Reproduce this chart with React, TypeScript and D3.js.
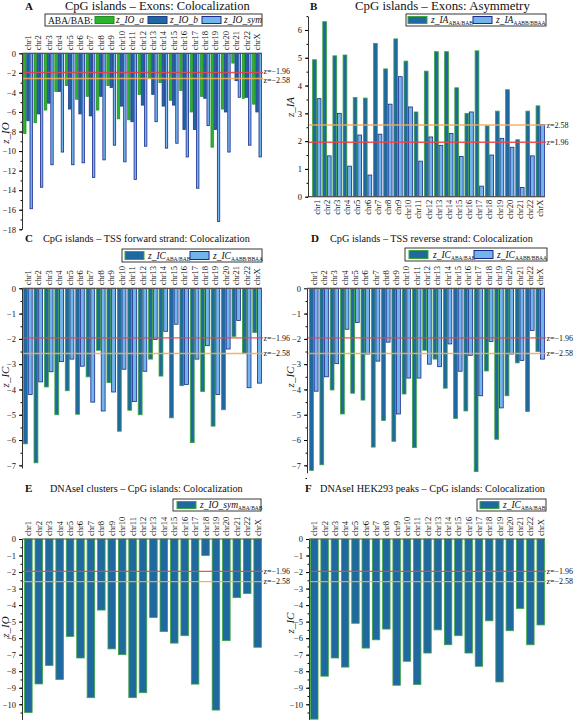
import React, { useEffect, useRef } from 'react';
import * as d3 from 'd3';

const chrs = ['chr1', 'chr2', 'chr3', 'chr4', 'chr5', 'chr6', 'chr7', 'chr8', 'chr9', 'chr10', 'chr11', 'chr12',
  'chr13', 'chr14', 'chr15', 'chr16', 'chr17', 'chr18', 'chr19', 'chr20', 'chr21', 'chr22', 'chrX'];

// A: CpG islands - Exons, colocalization
const ioA = [-8.2, -7.1, -5.8, -3.9, -3.3, -4.7, -4.4, -5.8, -3.3, -6.7, -6.8, -4.2, -2.5, -3.0, -4.8, -3.8, -6.0, -4.4, -9.6, -5.7, -1.0, -4.6, -5.2];
const ioB = [-6.9, -6.2, -5.1, -3.9, -5.7, -6.2, -6.4, -4.4, -3.5, -5.4, -7.0, -5.3, -4.2, -5.4, -5.3, -7.8, -7.8, -4.6, -7.8, -6.0, -2.8, -4.5, -6.0];
const ioSym = [-15.9, -13.7, -11.4, -10.1, -11.4, -11.2, -12.7, -10.9, -9.4, -11.1, -12.9, -9.5, -7.0, -9.7, -9.2, -10.6, -13.8, -7.4, -17.2, -10.1, -4.5, -9.4, -10.6];

// B: CpG islands - Exons, asymmetry
const iaAbaBab = [4.93, 6.3, 5.07, 5.1, 3.57, 3.55, 5.52, 4.6, 5.68, 4.88, 3.05, 4.52, 5.22, 5.22, 3.92, 3.0, 5.25, 2.55, 3.08, 3.85, 2.05, 3.08, 3.27];
const iaAabbBbaa = [3.53, 1.47, 3.0, 1.1, 2.22, 0.78, 2.25, 3.33, 4.32, 3.23, 1.28, 2.15, 1.85, 2.28, 1.45, 3.05, 0.38, 1.5, 2.1, 1.78, 0.33, 1.47, 2.6];

// C: TSS forward strand
const icFwdAbaBab = [-6.15, -6.9, -3.9, -5.0, -4.05, -4.98, -3.5, -2.45, -3.73, -5.65, -4.82, -5.0, -2.8, -3.47, -5.12, -3.85, -6.1, -4.08, -5.45, -4.8, -1.9, -2.57, -1.75];
const icFwdAabbBbaa = [-4.2, -3.7, -3.3, -2.9, -2.8, -3.08, -4.5, -4.85, -4.1, -3.2, -4.48, -3.28, -2.02, -1.7, -1.42, -3.8, -2.8, -2.27, -4.2, -2.4, -1.27, -3.93, -3.75];

// D: TSS reverse strand
const icRevAbaBab = [-7.2, -6.98, -4.02, -4.97, -4.15, -4.42, -6.28, -5.23, -6.05, -4.18, -6.3, -2.45, -2.8, -3.95, -5.15, -4.85, -7.25, -3.27, -5.97, -4.25, -2.95, -4.87, -2.5];
const icRevAabbBbaa = [-4.07, -3.5, -2.98, -1.62, -1.35, -2.6, -2.88, -2.13, -4.97, -3.55, -3.55, -3.0, -3.1, -2.2, -3.28, -2.65, -4.25, -2.1, -4.73, -2.6, -2.85, -1.67, -2.8];

// E: DNAseI clusters, F: DNAseI HEK293 peaks
const dnaseClusters = [-10.5, -8.77, -7.65, -8.5, -5.9, -7.2, -9.6, -4.3, -6.65, -7.0, -9.6, -9.3, -4.75, -5.6, -6.3, -5.85, -8.78, -1.0, -10.35, -6.15, -3.55, -3.3, -6.55];
const dnaseHek = [-10.9, -8.3, -7.2, -7.75, -5.1, -6.6, -6.1, -5.45, -8.85, -7.4, -8.8, -6.9, -5.5, -6.4, -5.85, -6.9, -7.7, -4.95, -8.65, -5.55, -4.2, -6.4, -5.2];

const ticksA = [0, -2, -4, -6, -8, -10, -12, -14, -16, -18];
const ticksB = [0, 1, 2, 3, 4, 5, 6];
const ticksCD = [0, -1, -2, -3, -4, -5, -6, -7];
const ticksEF = [0, -1, -2, -3, -4, -5, -6, -7, -8, -9, -10];

const FONT = '"Liberation Serif", "Times New Roman", serif';
const RED = '#e8454a';
const ORANGE = '#f3aa5c';

const GREEN = { fill: '#2cb42f', stroke: '#1f8f24' };
const DARK = { fill: '#2068a4', stroke: '#1a3c8c' };
const DARKG = { fill: '#2068a0', stroke: '#3ca53c' };
const LIGHT = { fill: '#72b5ec', stroke: '#1b2a8a' };

interface Series { values: number[]; fill: string; stroke: string; }
interface LegendItem { sx: number; tx: number; fill: string; stroke: string; main: string; sub?: string; }
interface Threshold { v: number; color: string; label: string; dy: number; }
interface Panel {
  id: string; title: string; letterX: number; titleSpan: [number, number]; titleY: number;
  x0: number; x1: number; barStart: number; barEnd: number; pad: number;
  yDomain: [number, number]; yRange: [number, number]; ticks: number[]; minorStep: number;
  series: Series[]; thresholds: Threshold[];
  below: boolean; axisLabel: string; axisX: number; axisY: number;
  clip: [number, number];
  legend: { box: [number, number, number, number]; prefix?: { x: number; text: string }; items: LegendItem[] };
}

const negLines = (d1: number, d2: number): Threshold[] => [
  { v: -1.96, color: RED, label: 'z=−1.96', dy: d1 },
  { v: -2.58, color: ORANGE, label: 'z=−2.58', dy: d2 },
];

const panels: Panel[] = [
  {
    id: 'A', title: 'CpG islands – Exons: Colocalization', letterX: 25, titleSpan: [65, 250], titleY: 10,
    x0: 22, x1: 262, barStart: 23, barEnd: 262, pad: 0.08,
    yDomain: [-18, 0], yRange: [229.3, 53.3], ticks: ticksA, minorStep: 1,
    series: [{ values: ioA, ...GREEN }, { values: ioB, ...DARK }, { values: ioSym, ...LIGHT }],
    thresholds: negLines(1.2, 4),
    below: false, axisLabel: 'z_IO', axisX: 9, axisY: 133, clip: [0, 290],
    legend: {
      box: [45, 14, 217, 12], prefix: { x: 48, text: 'ABA/BAB:' },
      items: [
        { sx: 95, tx: 116, ...GREEN, main: 'z_IO_a' },
        { sx: 148, tx: 170, ...DARK, main: 'z_IO_b' },
        { sx: 202, tx: 224, ...LIGHT, main: 'z_IO_sym' },
      ],
    },
  },
  {
    id: 'B', title: 'CpG islands – Exons: Asymmetry', letterX: 310, titleSpan: [355, 530], titleY: 10,
    x0: 308, x1: 545, barStart: 312, barEnd: 545, pad: 0.1,
    yDomain: [0, 6.5], yRange: [196.7, 16.1], ticks: ticksB, minorStep: 0.5,
    series: [{ values: iaAbaBab, ...DARKG }, { values: iaAabbBbaa, ...LIGHT }],
    thresholds: [
      { v: 2.58, color: ORANGE, label: 'z=2.58', dy: 2.8 },
      { v: 1.96, color: RED, label: 'z=1.96', dy: 2.8 },
    ],
    below: true, axisLabel: 'z_IA', axisX: 294, axisY: 107, clip: [284, 577],
    legend: {
      box: [406, 14, 140, 12],
      items: [
        { sx: 408, tx: 431, ...DARKG, main: 'z_IA', sub: 'ABA/BAB' },
        { sx: 473, tx: 496, ...LIGHT, main: 'z_IA', sub: 'AABB/BBAA' },
      ],
    },
  },
  {
    id: 'C', title: 'CpG islands – TSS forward strand: Colocalization', letterX: 25, titleSpan: [43, 250], titleY: 242,
    x0: 22, x1: 262, barStart: 23, barEnd: 262, pad: 0.1,
    yDomain: [-7.1, 0], yRange: [467.9, 288.3], ticks: ticksCD, minorStep: 0.5,
    series: [{ values: icFwdAbaBab, ...DARKG }, { values: icFwdAabbBbaa, ...LIGHT }],
    thresholds: negLines(2.8, 2.8),
    below: false, axisLabel: 'z_IC', axisX: 9, axisY: 377, clip: [0, 290],
    legend: {
      box: [122, 249, 140, 13],
      items: [
        { sx: 125, tx: 148, ...DARKG, main: 'z_IC', sub: 'ABA/BAB' },
        { sx: 190, tx: 213, ...LIGHT, main: 'z_IC', sub: 'AABB/BBAA' },
      ],
    },
  },
  {
    id: 'D', title: 'CpG islands – TSS reverse strand: Colocalization', letterX: 311, titleSpan: [330, 533], titleY: 242,
    x0: 307, x1: 545, barStart: 309, barEnd: 545, pad: 0.1,
    yDomain: [-7.3, 0], yRange: [472.9, 288.3], ticks: ticksCD, minorStep: 0.5,
    series: [{ values: icRevAbaBab, ...DARKG }, { values: icRevAabbBbaa, ...LIGHT }],
    thresholds: negLines(2.8, 2.8),
    below: false, axisLabel: 'z_IC', axisX: 294, axisY: 377, clip: [284, 577],
    legend: {
      box: [405, 248, 142, 13],
      items: [
        { sx: 409, tx: 433, ...DARKG, main: 'z_IC', sub: 'ABA/BAB' },
        { sx: 474, tx: 497, ...LIGHT, main: 'z_IC', sub: 'AABB/BBAA' },
      ],
    },
  },
  {
    id: 'E', title: 'DNAseI clusters – CpG islands: Colocalization', letterX: 25, titleSpan: [50, 243], titleY: 492,
    x0: 22, x1: 262, barStart: 24, barEnd: 262, pad: 0.2,
    yDomain: [-11, 0], yRange: [720.8, 539], ticks: ticksEF, minorStep: 0.5,
    series: [{ values: dnaseClusters, ...DARKG }],
    thresholds: negLines(2.8, 2.8),
    below: false, axisLabel: 'z_IO', axisX: 9, axisY: 627, clip: [0, 290],
    legend: {
      box: [173, 499, 88, 12],
      items: [{ sx: 177, tx: 200, ...DARKG, main: 'z_IO_sym', sub: 'ABA/BAB' }],
    },
  },
  {
    id: 'F', title: 'DNAseI HEK293 peaks – CpG islands: Colocalization', letterX: 305, titleSpan: [320, 545], titleY: 492,
    x0: 309, x1: 545, barStart: 310, barEnd: 545, pad: 0.2,
    yDomain: [-11, 0], yRange: [720.8, 539], ticks: ticksEF, minorStep: 0.5,
    series: [{ values: dnaseHek, ...DARKG }],
    thresholds: negLines(2.8, 2.8),
    below: false, axisLabel: 'z_IC', axisX: 294, axisY: 623, clip: [284, 577],
    legend: {
      box: [477, 499, 69, 12],
      items: [{ sx: 480, tx: 503, ...DARKG, main: 'z_IC', sub: 'ABA/BAB' }],
    },
  },
];

function drawPanel(svg: d3.Selection<SVGSVGElement, unknown, null, undefined>, p: Panel) {
  svg.select('defs').append('clipPath').attr('id', `clip${p.id}`)
    .append('rect').attr('x', p.clip[0]).attr('y', 0).attr('width', p.clip[1] - p.clip[0]).attr('height', 720);

  const g = svg.append('g').attr('clip-path', `url(#clip${p.id})`)
    .attr('font-family', FONT).attr('fill', '#111');

  const y = d3.scaleLinear().domain(p.yDomain).range(p.yRange);
  const x = d3.scaleBand<string>().domain(chrs).range([p.barStart, p.barEnd]).paddingInner(p.pad).paddingOuter(0.02);
  const sub = d3.scaleBand<number>().domain(d3.range(p.series.length)).range([0, x.bandwidth()]);

  // bars
  p.series.forEach((s, i) => {
    g.append('g').selectAll('rect').data(s.values).join('rect')
      .attr('x', (_, j) => (x(chrs[j]) || 0) + (sub(i) || 0) + 0.4)
      .attr('y', d => Math.min(y(d), y(0)))
      .attr('width', sub.bandwidth() - 0.8)
      .attr('height', d => Math.abs(y(d) - y(0)))
      .attr('fill', s.fill)
      .attr('stroke', s.stroke)
      .attr('stroke-width', 0.8);
  });

  // significance lines
  p.thresholds.forEach(t => {
    g.append('line')
      .attr('x1', p.x0).attr('x2', p.x1 + 1)
      .attr('y1', y(t.v)).attr('y2', y(t.v))
      .attr('stroke', t.color).attr('stroke-width', 1.4).attr('opacity', 0.9);
    g.append('text')
      .attr('x', p.x1 + 1.5).attr('y', y(t.v) + t.dy)
      .attr('font-size', 8)
      .text(t.label);
  });

  // zero line
  g.append('line')
    .attr('x1', p.x0).attr('x2', p.x1)
    .attr('y1', y(0)).attr('y2', y(0))
    .attr('stroke', '#555').attr('stroke-width', 1.2);

  // y axis
  const yAxis = g.append('g').attr('transform', `translate(${p.x0},0)`)
    .call(d3.axisLeft(y).tickValues(p.ticks).tickSize(3).tickSizeOuter(0).tickFormat(d3.format('d')));
  yAxis.attr('font-family', FONT);
  yAxis.selectAll('text').attr('font-family', FONT).attr('font-size', 8.5).attr('fill', '#111');
  yAxis.select('.domain').attr('stroke', '#333');
  const minor = d3.range(p.yDomain[0], p.yDomain[1] + 1e-9, p.minorStep)
    .map(v => Math.round(v / p.minorStep) * p.minorStep);
  const yMinor = g.append('g').attr('transform', `translate(${p.x0},0)`)
    .call(d3.axisLeft(y).tickValues(minor).tickSize(1.5).tickSizeOuter(0).tickFormat(() => ''));
  yMinor.select('.domain').remove();

  // chromosome labels
  g.append('g').selectAll('text').data(chrs).join('text')
    .attr('transform', c => `translate(${(x(c) || 0) + x.bandwidth() / 2 + 3},${p.below ? y(0) + 3 : y(0) - 3}) rotate(-90)`)
    .attr('text-anchor', p.below ? 'end' : 'start')
    .attr('font-size', 8.5)
    .text(c => c);

  // axis title
  g.append('text')
    .attr('transform', `translate(${p.axisX},${p.axisY}) rotate(-90)`)
    .attr('text-anchor', 'middle')
    .attr('font-size', 11)
    .attr('font-style', 'italic')
    .text(p.axisLabel);

  // panel title, font size fitted to the span it takes in the figure
  g.append('text').attr('x', p.letterX).attr('y', p.titleY)
    .attr('font-size', 11).attr('font-weight', 'bold').text(p.id);
  const title = g.append('text').attr('x', p.titleSpan[0]).attr('y', p.titleY)
    .attr('font-size', 11.5).text(p.title);
  const node = title.node();
  if (node) {
    const len = node.getComputedTextLength();
    if (len > 0) title.attr('font-size', 11.5 * (p.titleSpan[1] - p.titleSpan[0]) / len);
  }

  // legend
  const [bx, by, bw, bh] = p.legend.box;
  const lg = g.append('g');
  lg.append('rect').attr('x', bx).attr('y', by).attr('width', bw).attr('height', bh)
    .attr('fill', '#fff').attr('stroke', '#222').attr('stroke-width', 0.9);
  if (p.legend.prefix) {
    lg.append('text').attr('x', p.legend.prefix.x).attr('y', by + bh - 2.5)
      .attr('font-size', 9.5).text(p.legend.prefix.text);
  }
  p.legend.items.forEach(it => {
    lg.append('rect').attr('x', it.sx).attr('y', by + 2.5).attr('width', 19).attr('height', bh - 5)
      .attr('fill', it.fill).attr('stroke', it.stroke).attr('stroke-width', 1);
    const t = lg.append('text').attr('x', it.tx).attr('y', by + bh - 3)
      .attr('font-size', 9.5).attr('font-style', 'italic');
    t.append('tspan').text(it.main);
    if (it.sub) {
      t.append('tspan').attr('font-size', 5.5).attr('font-style', 'normal').attr('dy', 1.5).text(it.sub);
    }
  });
}

export default function App() {
  const svgRef = useRef<SVGSVGElement | null>(null);

  useEffect(() => {
    if (!svgRef.current) return;
    const svg = d3.select(svgRef.current);
    svg.selectAll('*').remove();
    svg.append('defs');
    panels.forEach(p => drawPanel(svg, p));
  }, []);

  return (
    <svg
      ref={svgRef}
      width={577}
      height={720}
      style={{ position: 'absolute', left: 0, top: 0, background: '#fff' }}
    />
  );
}
